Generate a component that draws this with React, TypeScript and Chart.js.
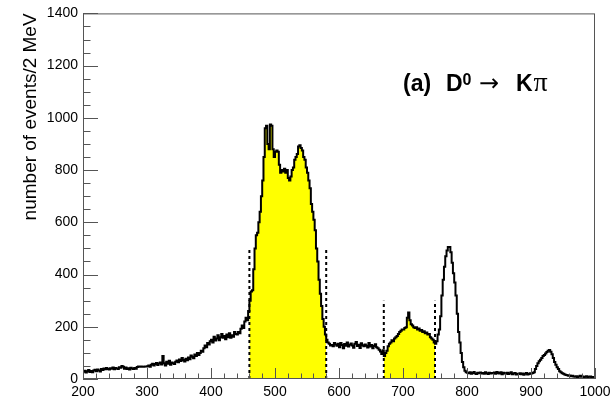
import { useEffect, useRef } from "react";
import { Chart, registerables } from "chart.js";

Chart.register(...registerables);

const binStart = 200;
const binWidth = 2;

// counts per 2 MeV bin, 200 .. 1000 MeV (10 bins per row)
const counts: number[] = [
  28, 32, 25, 30, 34, 27, 31, 26, 33, 35, // 200
  30, 36, 33, 29, 38, 34, 40, 37, 42, 38, // 220
  36, 41, 39, 44, 37, 42, 40, 38, 45, 43, // 240
  50, 47, 39, 44, 38, 41, 36, 43, 40, 38, // 260
  42, 39, 46, 48, 47, 48, 47, 47, 48, 48, // 280
  49, 52, 47, 55, 58, 52, 57, 61, 54, 59, // 300
  63, 56, 88, 60, 52, 66, 58, 70, 55, 63, // 320
  60, 57, 66, 71, 64, 75, 69, 80, 73, 67, // 340
  78, 72, 82, 76, 90, 85, 79, 94, 88, 100, // 360
  92, 100, 108, 104, 118, 128, 122, 138, 132, 145, // 380
  150, 140, 162, 147, 155, 168, 148, 160, 172, 158, // 400
  165, 152, 170, 160, 175, 158, 168, 162, 180, 172, // 420
  170, 180, 175, 192, 205, 195, 220, 235, 225, 260, // 440
  300, 335, 340, 420, 500, 550, 560, 600, 640, 700, // 460
  760, 850, 960, 970, 900, 880, 975, 970, 880, 850, // 480
  870, 875, 870, 820, 790, 800, 795, 805, 790, 800, // 500
  770, 760, 775, 800, 810, 840, 850, 862, 890, 895, // 520
  885, 875, 850, 840, 810, 790, 760, 730, 670, 640, // 540
  610, 570, 500, 450, 380, 326, 280, 230, 200, 170, // 560
  150, 140, 135, 128, 130, 125, 138, 132, 127, 135, // 580
  122, 138, 130, 118, 134, 127, 140, 124, 131, 136, // 600
  128, 120, 135, 142, 126, 131, 119, 137, 129, 125, // 620
  132, 127, 121, 138, 124, 130, 118, 126, 133, 122, // 640
  118, 112, 105, 96, 110, 88, 100, 108, 125, 135, // 660
  140, 148, 145, 155, 160, 165, 172, 180, 185, 190, // 680
  190, 195, 198, 235, 255, 225, 210, 205, 198, 195, // 700
  198, 190, 193, 185, 188, 180, 183, 175, 178, 170, // 720
  172, 160, 155, 150, 140, 135, 145, 170, 190, 240, // 740
  320, 380, 430, 470, 492, 505, 505, 485, 445, 405, // 760
  370, 320, 250, 180, 140, 100, 65, 45, 32, 26, // 780
  24, 22, 26, 20, 23, 27, 21, 19, 24, 22, // 800
  25, 21, 23, 20, 26, 22, 19, 24, 21, 23, // 820
  22, 25, 20, 27, 23, 21, 26, 18, 24, 22, // 840
  20, 24, 19, 22, 26, 18, 21, 23, 17, 20, // 860
  19, 22, 18, 21, 16, 20, 23, 17, 19, 22, // 880
  21, 23, 26, 38, 50, 60, 68, 74, 80, 88, // 900
  92, 98, 103, 108, 111, 104, 95, 80, 65, 55, // 920
  45, 38, 30, 26, 22, 20, 17, 15, 14, 12, // 940
  13, 11, 12, 10, 9, 11, 8, 10, 12, 9, // 960
  10, 8, 9, 11, 7, 9, 10, 8, 6, 8, // 980
];

const signalRanges: [number, number][] = [
  [460, 580],
  [670, 750],
];
const cutPositions = [460, 580, 670, 750];
const cutHeights = [500, 500, 300, 300];

const xMin = 200;
const xMax = 1000;
const yMin = 0;
const yMax = 1400;
const xMajorStep = 100;
const xMinorStep = 20;
const yMajorStep = 200;
const yMinorStep = 50;

const yTitle = "number of events/2 MeV";

const FONT = '"Liberation Sans", Arial, Helvetica, sans-serif';

function histPoints(lo: number, hi: number) {
  const pts: { x: number; y: number }[] = [];
  counts.forEach((c, i) => {
    const a = binStart + i * binWidth;
    const b = a + binWidth;
    if (a >= lo && b <= hi) {
      pts.push({ x: a, y: c });
      pts.push({ x: b, y: c });
    }
  });
  return pts;
}

const decorPlugin = {
  id: "rootDecor",
  afterDatasetsDraw(chart: any) {
    const { ctx, chartArea, scales } = chart;
    const xs = scales.x;
    const ys = scales.y;
    const { left, right, top, bottom } = chartArea;
    ctx.save();
    ctx.strokeStyle = "#555";
    ctx.lineWidth = 1;
    // frame
    ctx.strokeRect(left + 0.5, top + 0.5, right - left - 1, bottom - top - 1);
    // x ticks (inward)
    const xMajorLen = 11;
    const xMinorLen = 5.5;
    ctx.beginPath();
    for (let v = xMin; v <= xMax + 1e-6; v += xMinorStep) {
      const px = Math.round(xs.getPixelForValue(v)) + 0.5;
      const major = Math.abs(v / xMajorStep - Math.round(v / xMajorStep)) < 1e-6;
      const len = major ? xMajorLen : xMinorLen;
      ctx.moveTo(px, bottom);
      ctx.lineTo(px, bottom - len);
    }
    // y ticks (inward)
    const yMajorLen = 15;
    const yMinorLen = 7.5;
    for (let v = yMin; v <= yMax + 1e-6; v += yMinorStep) {
      const py = Math.round(ys.getPixelForValue(v)) + 0.5;
      const major = Math.abs(v / yMajorStep - Math.round(v / yMajorStep)) < 1e-6;
      const len = major ? yMajorLen : yMinorLen;
      ctx.moveTo(left, py);
      ctx.lineTo(left + len, py);
    }
    ctx.stroke();

    // y title
    ctx.fillStyle = "#000";
    ctx.save();
    ctx.translate(35.5, top);
    ctx.rotate(-Math.PI / 2);
    ctx.font = `19px ${FONT}`;
    ctx.textAlign = "right";
    ctx.textBaseline = "alphabetic";
    ctx.fillText(yTitle, 0, 0);
    ctx.restore();

    // annotation "(a) D0 -> K pi"
    ctx.textAlign = "left";
    ctx.textBaseline = "alphabetic";
    const base = 91;
    ctx.font = `bold 23px ${FONT}`;
    ctx.fillText("(a)", 403, base);
    ctx.fillText("D", 446, base);
    const dEnd = 446 + ctx.measureText("D").width;
    ctx.font = `bold 16px ${FONT}`;
    ctx.fillText("0", dEnd, base - 6);
    ctx.font = `24px "DejaVu Sans", ${FONT}`;
    ctx.fillText("\u2192", 479, base);
    ctx.font = `bold 23px ${FONT}`;
    ctx.fillText("K", 516, base);
    const kEnd = 516 + ctx.measureText("K").width;
    ctx.font = `28px "Liberation Serif", serif`;
    ctx.fillText("\u03c0", kEnd + 1, base);
    ctx.restore();
  },
};

export default function App() {
  const ref = useRef<HTMLCanvasElement | null>(null);
  useEffect(() => {
    if (!ref.current) return;
    const datasets: any[] = [];
    datasets.push({
      data: histPoints(xMin, xMax),
      borderColor: "#000",
      borderWidth: 2,
      pointRadius: 0,
      fill: false,
      order: 1,
    });
    signalRanges.forEach(([lo, hi]) => {
      datasets.push({
        data: histPoints(lo, hi),
        borderWidth: 0,
        borderColor: "rgba(0,0,0,0)",
        backgroundColor: "#ffff00",
        pointRadius: 0,
        fill: "origin",
        order: 3,
      });
    });
    cutPositions.forEach((x, i) => {
      datasets.push({
        data: [
          { x, y: 0 },
          { x, y: cutHeights[i] },
        ],
        borderColor: "#000",
        borderWidth: 2,
        borderDash: [3, 3],
        pointRadius: 0,
        fill: false,
        order: 2,
      });
    });

    const chart = new Chart(ref.current, {
      type: "line",
      data: { datasets },
      options: {
        animation: false,
        responsive: false,
        devicePixelRatio: 1,
        layout: { padding: { top: 12, right: 21, left: 0, bottom: 0 } },
        plugins: {
          legend: { display: false },
          tooltip: { enabled: false },
        },
        elements: { line: { tension: 0 } },
        scales: {
          x: {
            type: "linear",
            min: xMin,
            max: xMax,
            grid: { display: false, drawTicks: false },
            border: { display: false },
            ticks: {
              stepSize: xMajorStep,
              autoSkip: false,
              maxRotation: 0,
              padding: 5,
              color: "#000",
              font: { family: FONT, size: 14 },
              callback: (v: any) => String(v),
            },
            afterFit: (s: any) => {
              s.height = 21;
            },
          },
          y: {
            type: "linear",
            min: yMin,
            max: yMax,
            grid: { display: false, drawTicks: false },
            border: { display: false },
            ticks: {
              stepSize: yMajorStep,
              autoSkip: false,
              padding: 5,
              color: "#000",
              font: { family: FONT, size: 14 },
              callback: (v: any) => String(v),
            },
            afterFit: (s: any) => {
              s.width = 83;
            },
          },
        },
      },
      plugins: [decorPlugin],
    });
    return () => chart.destroy();
  }, []);
  return (
    <div style={{ position: "absolute", left: 0, top: 0, width: 616, height: 400, background: "#fff" }}>
      <canvas ref={ref} width={616} height={400} style={{ display: "block" }} />
    </div>
  );
}
